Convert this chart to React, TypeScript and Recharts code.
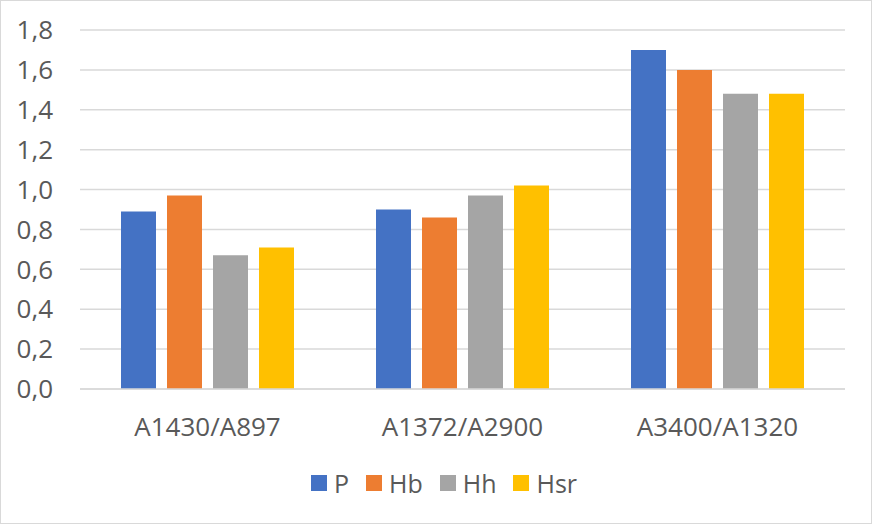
import React from 'react';
import { BarChart, Bar, XAxis, YAxis, CartesianGrid, Legend } from 'recharts';

const categories = ['A1430/A897', 'A1372/A2900', 'A3400/A1320'];
const pValues = [0.89, 0.9, 1.7];
const hbValues = [0.97, 0.86, 1.6];
const hhValues = [0.67, 0.97, 1.48];
const hsrValues = [0.71, 1.02, 1.48];
const yTicks = [0, 0.2, 0.4, 0.6, 0.8, 1.0, 1.2, 1.4, 1.6, 1.8];

const seriesList = [
  { key: 'P', color: '#4472C4' },
  { key: 'Hb', color: '#ED7D31' },
  { key: 'Hh', color: '#A5A5A5' },
  { key: 'Hsr', color: '#FFC000' },
];

const data = categories.map((name, i) => ({
  name,
  P: pValues[i],
  Hb: hbValues[i],
  Hh: hhValues[i],
  Hsr: hsrValues[i],
}));

const FONT = '"Open Sans", sans-serif';
const TEXT = '#595959';

const LegendBox = () => (
  <div style={{ display: 'flex', justifyContent: 'center', gap: 17, paddingLeft: 16, fontFamily: FONT, fontSize: 25, color: TEXT }}>
    {seriesList.map((s) => (
      <div key={s.key} style={{ display: 'flex', alignItems: 'center' }}>
        <span style={{ width: 16, height: 16, background: s.color, display: 'inline-block', marginRight: 7 }} />
        <span style={{ lineHeight: '24px' }}>{s.key}</span>
      </div>
    ))}
  </div>
);

export default function App() {
  return (
    <div style={{ position: 'absolute', left: 0, top: 0, width: 872, height: 524, background: '#fff', border: '1px solid #d9d9d9', boxSizing: 'border-box' }}>
      <div style={{ position: 'absolute', left: -1, top: -1 }}>
        <BarChart
          width={872}
          height={524}
          data={data}
          margin={{ top: 30, right: 27, left: 0, bottom: 95 }}
          barSize={35}
          barGap={11}
        >
          <CartesianGrid vertical={false} stroke="#d9d9d9" strokeWidth={1.5} />
          <XAxis
            dataKey="name"
            height={40}
            axisLine={{ stroke: '#d9d9d9', strokeWidth: 1.5 }}
            tickLine={false}
            tickSize={0}
            tickMargin={29}
            tick={{ fontSize: 26, fill: TEXT, fontFamily: FONT }}
          />
          <YAxis
            width={80}
            domain={[0, 1.8]}
            ticks={yTicks}
            axisLine={false}
            tickLine={false}
            tickSize={0}
            tickMargin={27}
            interval={0}
            tickFormatter={(v: number) => v.toFixed(1).replace('.', ',')}
            tick={{ fontSize: 26, fill: TEXT, fontFamily: FONT }}
          />
          <Legend
            layout="horizontal"
            verticalAlign="middle"
            align="center"
            content={<LegendBox />}
            wrapperStyle={{ top: 471, left: 0, width: 872 }}
          />
          {seriesList.map((s) => (
            <Bar key={s.key} dataKey={s.key} fill={s.color} isAnimationActive={false} />
          ))}
        </BarChart>
      </div>
    </div>
  );
}
